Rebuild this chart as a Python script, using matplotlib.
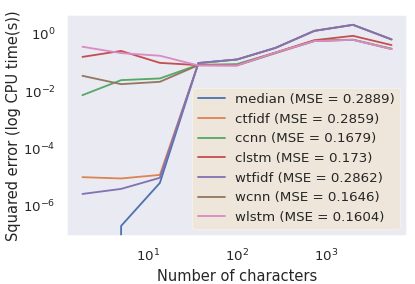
import numpy as np
import matplotlib
matplotlib.use("Agg")
import matplotlib.pyplot as plt
import matplotlib.ticker as mticker
import seaborn as sns

sns.set_theme(context="notebook", style="dark")
plt.rcParams['font.family'] = ['DejaVu Sans']

n_chars = [1.82, 4.95, 13.5, 36.6, 99.5, 270, 735, 2000, 5430]

median = [0.0, 2.0e-7, 6.3e-6, 0.095, 0.126, 0.32, 1.25, 2.03, 0.63]
ctfidf = [1.0e-5, 9.0e-6, 1.2e-5, 0.092, 0.126, 0.32, 1.25, 2.03, 0.63]
ccnn = [0.0072, 0.024, 0.0275, 0.082, 0.087, 0.22, 0.57, 0.62, 0.30]
clstm = [0.155, 0.25, 0.096, 0.080, 0.080, 0.22, 0.59, 0.84, 0.40]
wtfidf = [2.6e-6, 3.9e-6, 9.5e-6, 0.095, 0.126, 0.32, 1.25, 2.03, 0.63]
wcnn = [0.034, 0.0174, 0.021, 0.080, 0.078, 0.21, 0.55, 0.61, 0.29]
wlstm = [0.35, 0.21, 0.17, 0.078, 0.078, 0.22, 0.55, 0.61, 0.29]

names = ["median", "ctfidf", "ccnn", "clstm", "wtfidf", "wcnn", "wlstm"]
mse = ["0.2889", "0.2859", "0.1679", "0.173", "0.2862", "0.1646", "0.1604"]
series = [median, ctfidf, ccnn, clstm, wtfidf, wcnn, wlstm]
y_ticks = [1e-6, 1e-4, 1e-2, 1e0]

fig = plt.figure(figsize=(415 / 87.5, 284 / 87.5), dpi=87.5)
ax = fig.add_axes([67 / 415, (284 - 236) / 284, (407 - 67) / 415, (236 - 15) / 284])

for name, m, ys in zip(names, mse, series):
    ax.plot(n_chars, ys, label=f"{name} (MSE = {m})")

ax.set_xscale("log")
ax.set_yscale("log")
ax.set_ylim(10 ** -7.05, 10 ** 0.65)
ax.yaxis.set_major_locator(mticker.FixedLocator(y_ticks))
ax.yaxis.set_major_formatter(mticker.LogFormatterSciNotation())
ax.yaxis.set_minor_locator(mticker.NullLocator())
ax.set_xlabel("Number of characters")
ax.set_ylabel("Squared error (log CPU time(s))", fontsize=12, labelpad=1.5)
leg = ax.legend(loc="lower right", facecolor="#EEE6DA", framealpha=1.0, edgecolor="#F3EFEA")

fig.savefig("out.png", dpi=87.5)
